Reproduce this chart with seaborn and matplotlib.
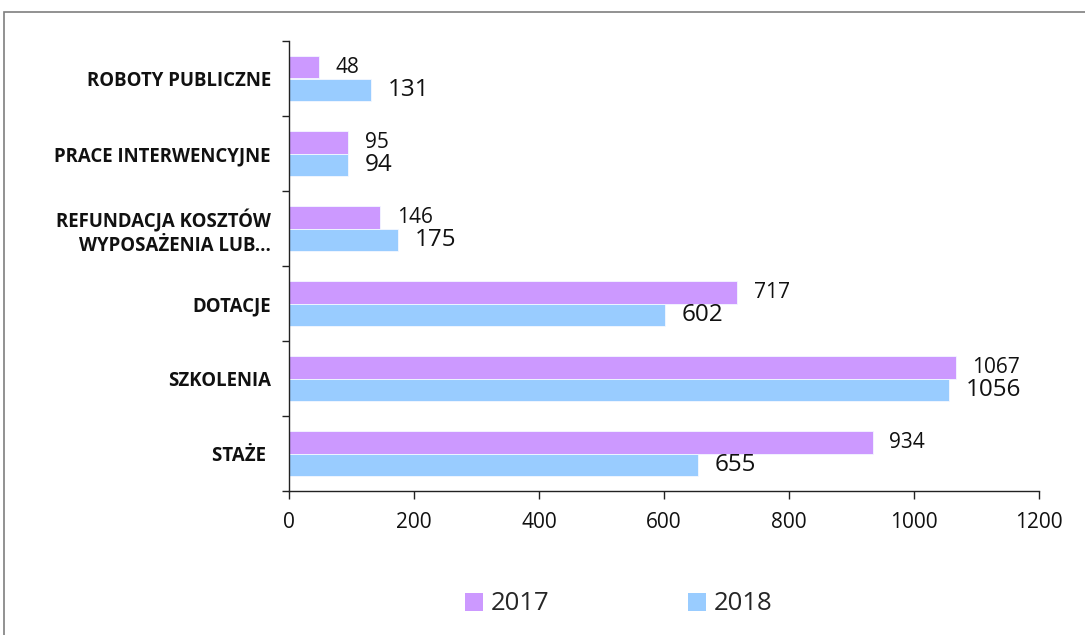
import matplotlib
matplotlib.use("Agg")
import matplotlib.pyplot as plt
from matplotlib.patches import Rectangle, Patch
from matplotlib.ticker import FixedLocator
import seaborn as sns
import pandas as pd

categories = ["ROBOTY PUBLICZNE", "PRACE INTERWENCYJNE",
              "REFUNDACJA KOSZTÓW\nWYPOSAŻENIA LUB...", "DOTACJE",
              "SZKOLENIA", "STAŻE "]
years = ["2017", "2018"]
values_2017 = [48, 95, 146, 717, 1067, 934]
values_2018 = [131, 94, 175, 602, 1056, 655]
x_ticks = [0, 200, 400, 600, 800, 1000, 1200]

colors = {"2017": "#CC99FF", "2018": "#99CCFF"}

df = pd.DataFrame({
    "kategoria": categories * 2,
    "rok": ["2017"] * len(categories) + ["2018"] * len(categories),
    "liczba": values_2017 + values_2018,
})

sns.set_theme(style="white")
plt.rcParams["font.family"] = ["Open Sans", "DejaVu Sans"]

fig = plt.figure(figsize=(10.85, 6.35), dpi=100)
ax = fig.add_axes([289 / 1085, 1 - 491 / 635, 750 / 1085, 450 / 635])

sns.barplot(data=df, y="kategoria", x="liczba", hue="rok", order=categories,
            hue_order=years, palette=colors, saturation=1, orient="h", width=0.587,
            edgecolor="#f4f8ff", linewidth=0.6, legend=False, ax=ax)

# value labels next to each bar
for container, yr in zip(ax.containers, years):
    size = 15 if yr == "2017" else 17.5
    for bar, v in zip(container, values_2017 if yr == "2017" else values_2018):
        ax.annotate(str(v), (bar.get_width(), bar.get_y() + bar.get_height() / 2),
                    xytext=(12, 0), textcoords="offset points",
                    va="center", ha="left", fontsize=size, color="#111111")

ax.set_xlim(0, 1200)
ax.set_ylim(len(categories) - 0.5, -0.5)
ax.set_xticks(x_ticks)
ax.set_xticklabels([str(t) for t in x_ticks], fontsize=15, color="#111111")
ax.set_xlabel("")
ax.set_ylabel("")

ax.set_yticks(range(len(categories)))
ax.set_yticklabels(categories, fontsize=13.4, fontweight="bold", color="#111111",
                   ha="right", multialignment="right", linespacing=1.25)
ax.yaxis.set_minor_locator(FixedLocator([i - 0.5 for i in range(len(categories) + 1)]))
ax.tick_params(axis="y", which="major", length=0, pad=13)
ax.tick_params(axis="y", which="minor", length=5, width=1, color="#222222", left=True)
ax.tick_params(axis="x", which="major", length=6, width=1, color="#222222",
               bottom=True, pad=9)

for side in ["top", "right"]:
    ax.spines[side].set_visible(False)
for side in ["left", "bottom"]:
    ax.spines[side].set_color("#222222")
    ax.spines[side].set_linewidth(1)

handles = [Patch(facecolor=colors[y], edgecolor="none", label=y) for y in years]
fig.legend(handles=handles, loc="center", bbox_to_anchor=(619 / 1085, 1 - 604 / 635),
           ncol=2, frameon=False, fontsize=18.5, handlelength=0.7, handleheight=0.7,
           handletextpad=0.3, columnspacing=5.4)

# outer frame of the chart area
fig.patches.append(Rectangle((4 / 1085, -0.1), 1.2, 1.1 - 12 / 635,
                             transform=fig.transFigure, fill=False,
                             edgecolor="#7f7f7f", linewidth=1.2))

fig.savefig("out.png", dpi=100)
